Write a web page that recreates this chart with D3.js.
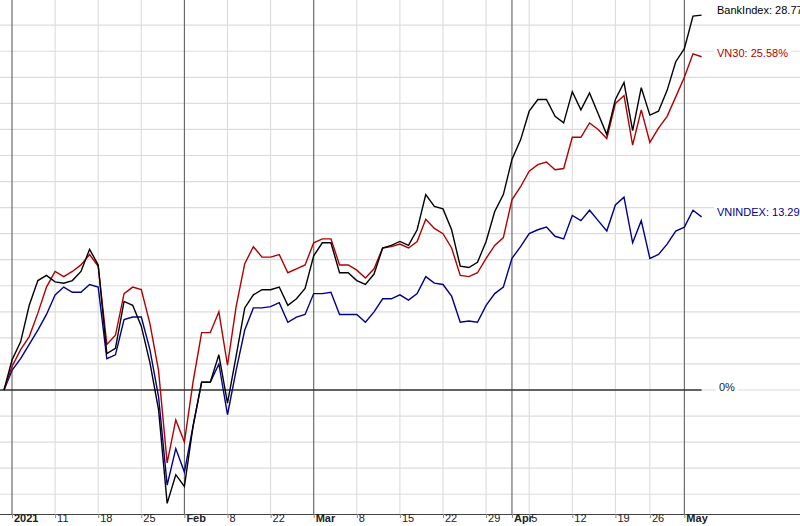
<!DOCTYPE html>
<html><head><meta charset="utf-8">
<script src="https://cdn.jsdelivr.net/npm/d3@7"></script>
<style>body{margin:0;background:#fff}svg{display:block;font-family:"Liberation Sans",Arial,sans-serif}</style>
</head><body><svg id="c" width="800" height="526"></svg>
<script>
const bankIndex=[0,2.3,3.7,6.5,8.4,8.8,8.3,8.2,8.4,9.1,10.8,9.6,2.8,3.2,6.8,6.5,4.9,2.1,-1.5,
-8.7,-6.5,-7.4,-2.8,0.6,0.6,2.7,-1.0,2.6,6.3,7.3,7.7,7.7,7.9,6.5,7.0,7.8,
10.3,11.3,11.3,9.0,9.0,8.4,8.1,8.9,10.9,11.1,11.4,11.1,12.3,15.0,14.1,13.9,12.3,9.5,9.4,9.8,11.4,13.7,15.0,
17.7,19.2,21.4,22.3,22.3,21.0,20.5,22.9,21.5,22.8,21.2,19.6,22.3,23.6,19.9,23.2,21.1,21.4,23.0,25.2,26.2,28.7,28.77];
const vn30=[0,1.8,3.1,4.1,5.9,7.9,9.1,8.7,9.1,9.6,10.4,9.5,3.5,4.2,7.4,7.9,7.7,5.1,1.5,
-5.6,-2.3,-4.0,0.6,4.4,4.4,6.0,1.9,6.4,9.7,11.0,10.2,10.2,10.4,9.0,9.3,9.6,
11.3,11.6,11.6,9.6,9.6,9.2,8.6,9.3,10.9,11.0,11.2,10.9,11.4,13.1,12.4,12.0,10.9,8.8,8.7,9.0,10.1,11.1,11.7,
14.6,15.6,16.8,17.3,17.5,16.9,17.0,19.4,19.4,20.5,20.0,19.3,22.0,22.6,18.8,21.5,19.0,20.1,21.0,22.5,24.0,25.8,25.58];
const vnindex=[0,1.5,2.4,3.5,4.6,5.8,7.3,7.9,7.5,7.5,8.1,7.9,2.4,2.7,5.4,5.6,5.6,3.1,-0.5,
-7.3,-4.5,-6.3,-2.8,0.6,0.6,2.0,-1.9,1.5,4.6,6.3,6.3,6.4,6.7,5.2,5.6,5.8,
7.4,7.4,7.5,5.8,5.8,5.8,5.2,6.0,7.0,7.0,7.3,6.9,7.4,8.7,8.2,8.1,7.2,5.2,5.3,5.2,6.5,7.4,7.9,
10.1,11.0,12.0,12.3,12.5,11.8,11.6,13.4,13.0,13.8,13.0,12.2,14.2,14.8,11.3,13.0,10.1,10.4,11.2,12.2,12.5,13.8,13.29];
const tickIdx=[1,6,11,16,21,26,31,36,41,46,51,56,59,61,66,71,75,79];
const tickLabels=["2021","11","18","25","Feb","8","22","Mar","8","15","22","29","Apr","5","12","19","26","May"];
const monthTicks=["2021","Feb","Mar","Apr","May"];
const seriesNames=["BankIndex","VN30","VNINDEX"];
const seriesColors=["#000000","#b00000","#00008b"];

const svg=d3.select("#c");
const x=d3.scaleLinear().domain([1,81]).range([12,701.6]);
const y=d3.scaleLinear().domain([0,28]).range([390,25.2]);
const bottom=514;
const hTicks=d3.range(-8,30,2);
svg.append("g").selectAll("line").data(hTicks).join("line")
 .attr("x1",0).attr("x2",800).attr("y1",d=>y(d)).attr("y2",d=>y(d))
 .attr("stroke","#dcdcdc").attr("stroke-width",1.2);
svg.append("g").selectAll("line").data(tickIdx).join("line")
 .attr("x1",d=>x(d)).attr("x2",d=>x(d)).attr("y1",0).attr("y2",bottom)
 .attr("stroke",(d,i)=>monthTicks.includes(tickLabels[i])?"#606060":"#dcdcdc")
 .attr("stroke-width",1.1);
const ax=d3.axisBottom(x).tickValues(tickIdx).tickSize(4).tickFormat((d,i)=>tickLabels[i]);
const g=svg.append("g").attr("transform",`translate(0,${bottom})`).call(ax);
g.select(".domain").attr("d","M0,0.5H800").attr("stroke","#444");
g.selectAll(".tick line").attr("y1",0).attr("y2",4).attr("stroke","#888");
g.selectAll(".tick text").attr("text-anchor","start").attr("dx",1.5).attr("y",0).attr("dy","0.72em")
 .attr("font-size",11).attr("fill","#222").attr("font-family","'Liberation Sans',Arial,sans-serif")
 .attr("font-weight",(d,i)=>monthTicks.includes(tickLabels[i])?"bold":"normal");
svg.append("line").attr("x1",0).attr("x2",x(81)).attr("y1",y(0)).attr("y2",y(0)).attr("stroke","#333").attr("stroke-width",1.5);
const line2=d3.line().x((d,i)=>i===0?4:x(i)).y(d=>y(d));
[2,1,0].forEach(j=>{
  const s=[bankIndex,vn30,vnindex][j];
  svg.append("path").datum(s).attr("d",line2).attr("fill","none").attr("stroke",seriesColors[j]).attr("stroke-width",1.4);
});
const labels=[{t:"BankIndex: 28.77%",v:bankIndex[81],c:seriesColors[0]},{t:"VN30: 25.58%",v:vn30[81],c:seriesColors[1]},{t:"VNINDEX: 13.29%",v:vnindex[81],c:seriesColors[2]},{t:"0%",v:0,c:"#222"}];
const lyOff=[-5,-4,-5,-3];
labels.forEach((l,i)=>{
  const tx=i===3?719:717, ty=y(l.v)+lyOff[i];
  const lg=svg.append("g");
  const r=lg.append("rect").attr("fill","#fff");
  const t=lg.append("text").attr("x",tx).attr("y",ty).attr("dy","0.35em").attr("font-size",11).attr("fill",l.c).text(l.t);
  const b=t.node().getBBox();
  r.attr("x",b.x-3).attr("y",b.y).attr("width",b.width+6).attr("height",b.height);
});
</script></body></html>
